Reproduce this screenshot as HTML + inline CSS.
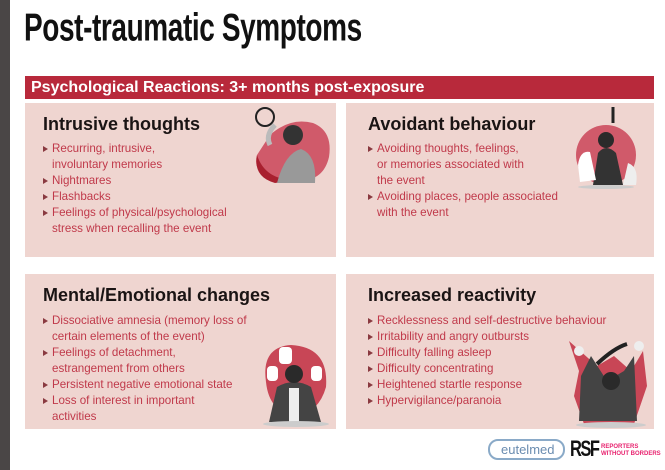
<!DOCTYPE html>
<html><head><meta charset="utf-8"><style>
*{margin:0;padding:0;box-sizing:border-box}
body{width:665px;height:470px;background:#fff;position:relative;overflow:hidden;font-family:"Liberation Sans",sans-serif}
.bar{position:absolute;left:0;top:0;width:10px;height:470px;background:#4a4646}
.title{position:absolute;left:24px;top:6px;font-weight:bold;font-size:35px;color:#111;letter-spacing:-0.5px;white-space:nowrap;transform:scale(0.8,1.12);transform-origin:left top}
.banner{position:absolute;left:25px;top:76px;width:629px;height:23px;background:#b8293b;color:#fff;font-weight:bold;font-size:16px;line-height:23px;padding-left:6px}
.p{position:absolute;background:#efd5d0}
.p h2{position:absolute;left:18px;font-size:18px;font-weight:bold;color:#1a1414;white-space:nowrap}
.p ul{position:absolute;left:18px;list-style:none;font-size:11.6px;line-height:16px;color:#c0394a}
.p li{padding-left:9px;position:relative;white-space:nowrap}
.p li:before{content:"";position:absolute;left:0;top:5px;border-left:5px solid #8a3a40;border-top:3px solid transparent;border-bottom:3px solid transparent}
svg{position:absolute}
</style></head><body>
<div class="bar"></div>
<div class="title">Post-traumatic Symptoms</div>
<div class="banner">Psychological Reactions: 3+ months post-exposure</div>

<div class="p" style="left:25px;top:103px;width:311px;height:154px">
<h2 style="top:11px">Intrusive thoughts</h2>
<ul style="top:38px"><li>Recurring, intrusive,<br>involuntary memories</li><li>Nightmares</li><li>Flashbacks</li><li>Feelings of physical/psychological<br>stress when recalling the event</li></ul>
<svg style="left:220px;top:2px" width="90" height="80" viewBox="0 0 90 80"><path d="M25 30 Q45 12 68 18 Q88 26 84 52 Q78 78 50 75 Q5 75 12 50Z" fill="#d05a6a"/><path d="M12 50 Q20 75 50 75 L30 78Q8 72 12 50Z" fill="#a8202f"/><circle cx="48" cy="30" r="10" fill="#333"/><path d="M32 78 Q40 48 56 44 Q72 50 70 78Z" fill="#999"/><path d="M25 40 Q20 30 30 20" stroke="#bbb" stroke-width="5" fill="none"/><circle cx="20" cy="12" r="9" fill="none" stroke="#222" stroke-width="2"/></svg>
</div>

<div class="p" style="left:346px;top:103px;width:308px;height:154px">
<h2 style="top:11px;left:22px">Avoidant behaviour</h2>
<ul style="top:38px;left:22px"><li>Avoiding thoughts, feelings,<br>or memories associated with<br>the event</li><li>Avoiding places, people associated<br>with the event</li></ul>
<svg style="left:227px;top:2px" width="75" height="85" viewBox="0 0 75 85"><circle cx="33" cy="50" r="30" fill="#d05a6a"/><path d="M20 80 L25 48 Q33 38 43 48 L50 80Z" fill="#333"/><circle cx="33" cy="35" r="8" fill="#2a2a2a"/><path d="M5 60 Q7 45 17 47 L23 75 L7 77Z" fill="#fff"/><path d="M50 80 L55 58 Q66 62 63 80Z" fill="#eee"/><path d="M40 2 L40 18" stroke="#222" stroke-width="3"/><ellipse cx="33" cy="82" rx="28" ry="2" fill="#ccc"/></svg>
</div>

<div class="p" style="left:25px;top:274px;width:311px;height:155px">
<h2 style="top:11px">Mental/Emotional changes</h2>
<ul style="top:39px"><li>Dissociative amnesia (memory loss of<br>certain elements of the event)</li><li>Feelings of detachment,<br>estrangement from others</li><li>Persistent negative emotional state</li><li>Loss of interest in important<br>activities</li></ul>
<svg style="left:236px;top:68px" width="72" height="85" viewBox="0 0 72 85"><path d="M5 40 Q0 5 30 3 Q68 5 65 45 Q58 70 35 75 Q8 70 5 40Z" fill="#c84656"/><path d="M8 80 L16 45 Q33 35 50 45 L60 80Z" fill="#444"/><rect x="28" y="46" width="10" height="34" fill="#eee"/><circle cx="33" cy="32" r="9" fill="#2a2a2a"/><rect x="18" y="5" width="13" height="17" rx="4" fill="#fff"/><rect x="6" y="24" width="11" height="15" rx="4" fill="#fff"/><rect x="50" y="24" width="11" height="15" rx="4" fill="#fff"/><ellipse cx="35" cy="82" rx="33" ry="3" fill="#ccc"/></svg>
</div>

<div class="p" style="left:346px;top:274px;width:308px;height:155px">
<h2 style="top:11px;left:22px">Increased reactivity</h2>
<ul style="top:39px;left:22px"><li>Recklessness and self-destructive behaviour</li><li>Irritability and angry outbursts</li><li>Difficulty falling asleep</li><li>Difficulty concentrating</li><li>Heightened startle response</li><li>Hypervigilance/paranoia</li></ul>
<svg style="left:223px;top:62px" width="82" height="92" viewBox="0 0 82 92"><path d="M0 5 L10 35 L5 60 L15 88 L65 88 L78 50 L74 15 L62 35 L45 20 L28 30Z" fill="#c84656"/><path d="M10 85 L12 40 L22 20 L38 45 L55 35 L65 20 L68 85Z" fill="#444"/><circle cx="42" cy="45" r="9" fill="#2a2a2a"/><path d="M28 28 Q45 12 58 8" stroke="#222" stroke-width="4" fill="none"/><circle cx="10" cy="15" r="5" fill="#eee"/><circle cx="70" cy="10" r="5" fill="#eee"/><ellipse cx="42" cy="89" rx="35" ry="3" fill="#ccc"/></svg>
</div>

<div style="position:absolute;left:488px;top:439px;width:77px;height:21px;border:2px solid #8aaac8;border-radius:10px;color:#6a8cb0;font-size:13px;line-height:17px;padding-left:11px">eutelmed</div>
<div style="position:absolute;left:570px;top:436px;font-weight:bold;font-size:22px;color:#111;letter-spacing:-2px;transform:scaleX(0.75);transform-origin:left top">RSF</div>
<div style="position:absolute;left:601px;top:444px;font-size:6px;line-height:7px;font-weight:bold;color:#e8236f;white-space:nowrap">REPORTERS<br>WITHOUT BORDERS</div>
</body></html>
